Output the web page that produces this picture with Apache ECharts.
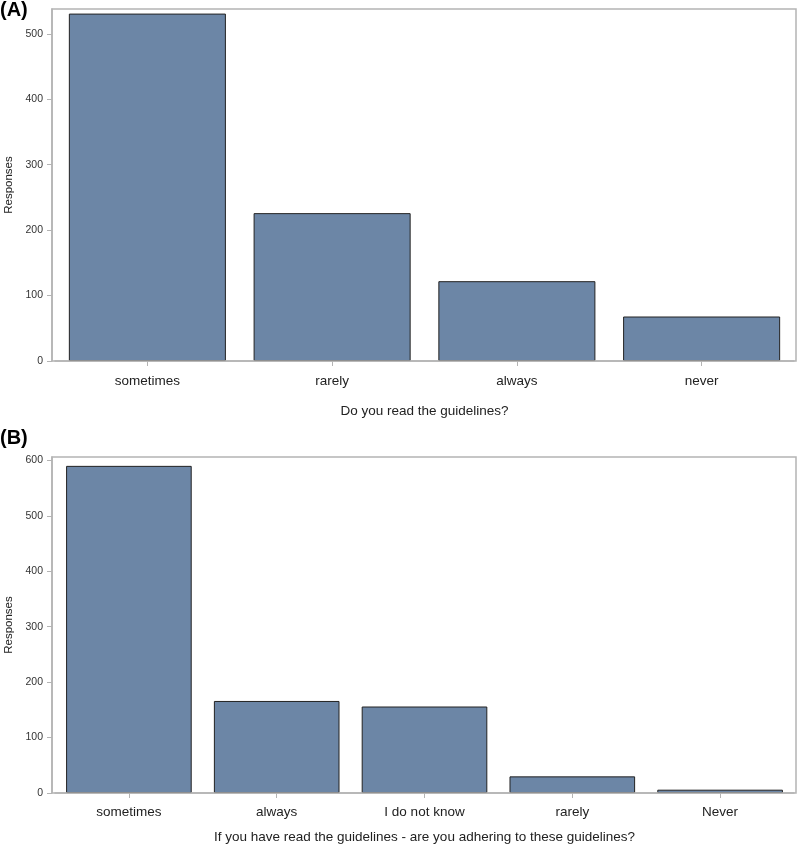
<!DOCTYPE html>
<html>
<head>
<meta charset="utf-8">
<script src="https://cdn.jsdelivr.net/npm/echarts@6/dist/echarts.min.js"></script>
<style>html,body{margin:0;padding:0;background:#fff}#c{width:799px;height:844px}</style>
</head>
<body>
<div id="c"></div>
<script>
var catsA = ['sometimes', 'rarely', 'always', 'never'];
var valsA = [531, 226, 122, 68];
var catsB = ['sometimes', 'always', 'I do not know', 'rarely', 'Never'];
var valsB = [590, 166, 156, 30, 6];
var titleA = 'Do you read the guidelines?';
var titleB = 'If you have read the guidelines - are you adhering to these guidelines?';
var yName = 'Responses';

var FONT = 'Liberation Sans, Arial, sans-serif';
var GREY = '#b4b4b4';
var BAR = '#6c86a6';

function xAxis(idx, cats, name, gap, lm) {
  return {
    type: 'category', gridIndex: idx, data: cats,
    name: name, nameLocation: 'middle', nameGap: gap,
    nameTextStyle: {fontFamily: FONT, fontSize: 13.5, color: '#222'},
    axisLine: {show: true, lineStyle: {color: GREY, width: 1.5}},
    axisTick: {show: true, alignWithLabel: true, length: 5, lineStyle: {color: GREY}},
    axisLabel: {fontFamily: FONT, fontSize: 13.5, color: '#222', margin: lm}
  };
}
function yAxis(idx, max) {
  return {
    type: 'value', gridIndex: idx, min: 0, max: max, interval: 100, offset: 3,
    name: yName, nameLocation: 'middle', nameGap: 33,
    nameTextStyle: {fontFamily: FONT, fontSize: 11.5, color: '#222'},
    axisLine: {show: true, lineStyle: {color: GREY, width: 1.5}},
    axisTick: {show: true, length: 5, lineStyle: {color: GREY}},
    axisLabel: {fontFamily: FONT, fontSize: 10.5, color: '#333', margin: 9, showMaxLabel: false},
    splitLine: {show: false}
  };
}
var barStyle = {color: BAR, borderColor: '#222', borderWidth: 1};
var frame = {show: true, borderColor: GREY, borderWidth: 1.5, backgroundColor: 'transparent', containLabel: false, outerBoundsMode: 'none'};
function g(o) { var r = {}; for (var k in frame) r[k] = frame[k]; for (var k2 in o) r[k2] = o[k2]; return r; }

var chart = echarts.init(document.getElementById('c'), null, {renderer: 'canvas'});
chart.setOption({
  animation: false,
  backgroundColor: '#fff',
  title: [
    {text: '(A)', left: 0, top: 0, padding: 0, textStyle: {fontFamily: FONT, fontSize: 20, fontWeight: 'bold', color: '#000'}},
    {text: '(B)', left: 0, top: 428, padding: 0, textStyle: {fontFamily: FONT, fontSize: 20, fontWeight: 'bold', color: '#000'}}
  ],
  grid: [
    g({left: 55, top: 9, width: 739, height: 352, show: false}),
    g({left: 55, top: 457, width: 739, height: 336, show: false}),
    g({left: 52, top: 9, width: 744, height: 352, z: 5}),
    g({left: 52, top: 457, width: 744, height: 336, z: 5})
  ],
  xAxis: [xAxis(0, catsA, titleA, 43, 13), xAxis(1, catsB, titleB, 37, 12)],
  yAxis: [yAxis(0, 538), yAxis(1, 606)],
  series: [
    {type: 'bar', xAxisIndex: 0, yAxisIndex: 0, data: valsA, barCategoryGap: '15%', itemStyle: barStyle},
    {type: 'bar', xAxisIndex: 1, yAxisIndex: 1, data: valsB, barCategoryGap: '15%', itemStyle: barStyle}
  ]
});
</script>
</body>
</html>
